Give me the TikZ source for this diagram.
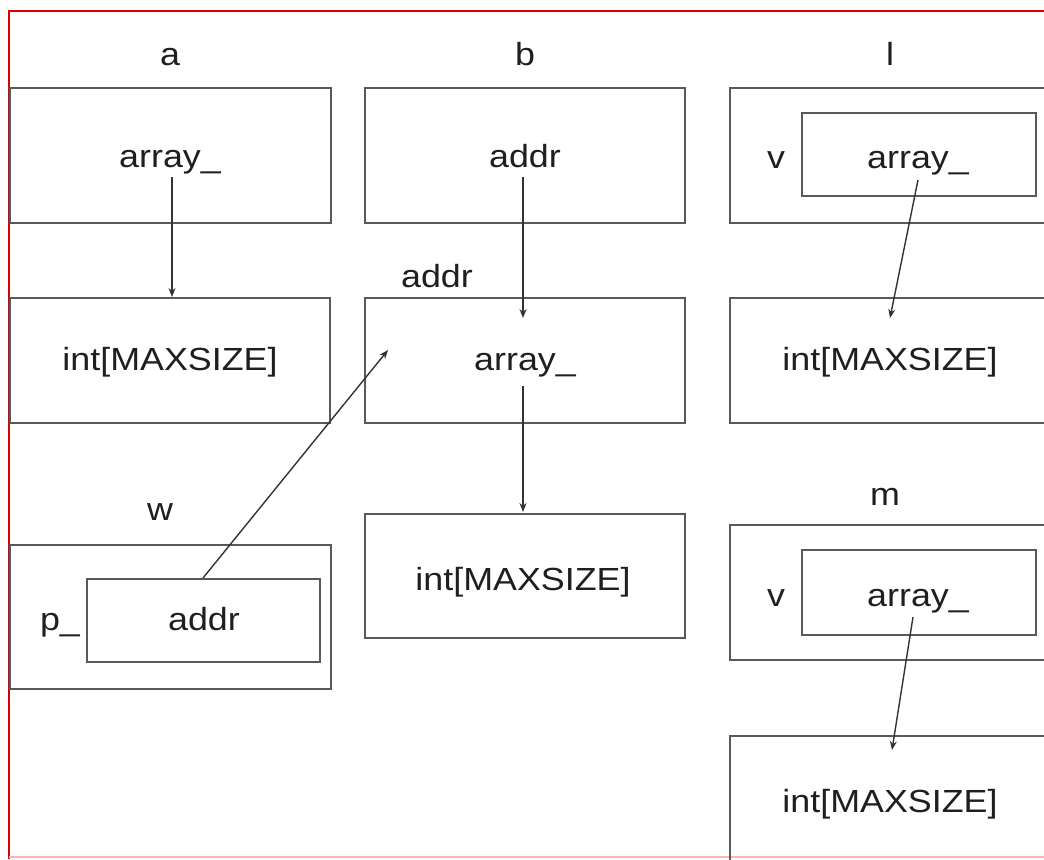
\documentclass[tikz,border=0pt]{standalone}
\usepackage{fontspec}
\setmainfont{Liberation Sans}[FakeStretch=1.12]
\usetikzlibrary{arrows.meta}
\begin{document}
\begin{tikzpicture}[x=0.5pt,y=-0.5pt,
  box/.style={draw=black!65,line width=1pt,rectangle,inner sep=0pt},
  txt/.style={anchor=base,inner sep=0pt,text=black!88,font=\fontsize{16}{19}\selectfont},
  ptr/.style={draw=black!80,line width=0.7pt,-{Stealth[length=4.5pt,width=3.5pt]}}]
\useasboundingbox (0,0) rectangle (1044,859);
\clip (0,0) rectangle (1044,859);
\fill[white] (0,0) rectangle (1044,859);
% red frame
\draw[red!85!black,line width=1.2pt] (9,859) -- (9,11) -- (1044,11);
\draw[red!30,line width=0.8pt] (9,857) -- (1044,857);
% outer boxes
\node[box,minimum width=160.5pt,minimum height=67.5pt] (boxa) at (170.5,155.5) {};
\node[box,minimum width=160pt,minimum height=62.5pt] (inta) at (170,360.5) {};
\node[box,minimum width=160pt,minimum height=67.5pt] (boxb) at (525,155.5) {};
\node[box,minimum width=160pt,minimum height=62.5pt] (boxb2) at (525,360.5) {};
\node[box,minimum width=160pt,minimum height=62pt] (intb) at (525,576) {};
\node[box,minimum width=165pt,minimum height=67.5pt] (boxl) at (895,155.5) {};
\node[box,minimum width=117pt,minimum height=41.5pt] (innl) at (919,154.5) {};
\node[box,minimum width=165pt,minimum height=62.5pt] (intl) at (895,360.5) {};
\node[box,minimum width=165pt,minimum height=67.5pt] (boxm) at (895,592.5) {};
\node[box,minimum width=117pt,minimum height=42.5pt] (innm) at (919,592.5) {};
\node[box,minimum width=165pt,minimum height=70pt] (intm) at (895,806) {};
\node[box,minimum width=160.5pt,minimum height=72pt] (boxw) at (170.5,617) {};
\node[box,minimum width=116.5pt,minimum height=41.5pt] (innw) at (203.5,620.5) {};
% labels
\node[txt] (la) at (170,65) {a};
\node[txt] (lb) at (525,65) {b};
\node[txt] (ll) at (890,65) {l};
\node[txt] (lm) at (885,505) {m};
\node[txt] (lw) at (160,520) {w};
\node[txt] (laddr) at (437,287) {addr};
% texts inside
\node[txt] (ta) at (170,167) {array\_};
\node[txt] (tinta) at (170,370) {int[MAXSIZE]};
\node[txt] (tb) at (525,167) {addr};
\node[txt] (tb2) at (525,370) {array\_};
\node[txt] (tintb) at (523,590) {int[MAXSIZE]};
\node[txt] (vl) at (776,168) {v};
\node[txt] (tl) at (918,168) {array\_};
\node[txt] (tintl) at (890,370) {int[MAXSIZE]};
\node[txt] (vm) at (776,606) {v};
\node[txt] (tm) at (918,606) {array\_};
\node[txt] (tintm) at (890,812) {int[MAXSIZE]};
\node[txt] (pw) at (60,630) {p\_};
\node[txt] (tw) at (204,630) {addr};
% arrow targets
\coordinate (ea) at (172,297);
\coordinate (eb) at (523,318);
\coordinate (eb2) at (523,512);
\coordinate (el) at (890,318);
\coordinate (em) at (892,750);
\coordinate (ew) at (388,350);
% pointers
\draw[ptr] (172,177) -- (ea);
\draw[ptr] (523,177) -- (eb);
\draw[ptr] (523,386) -- (eb2);
\draw[ptr] (918,180) -- (el);
\draw[ptr] (913,617) -- (em);
\draw[ptr] (innw.north -| 203,0) -- (ew);
\end{tikzpicture}
\end{document}
